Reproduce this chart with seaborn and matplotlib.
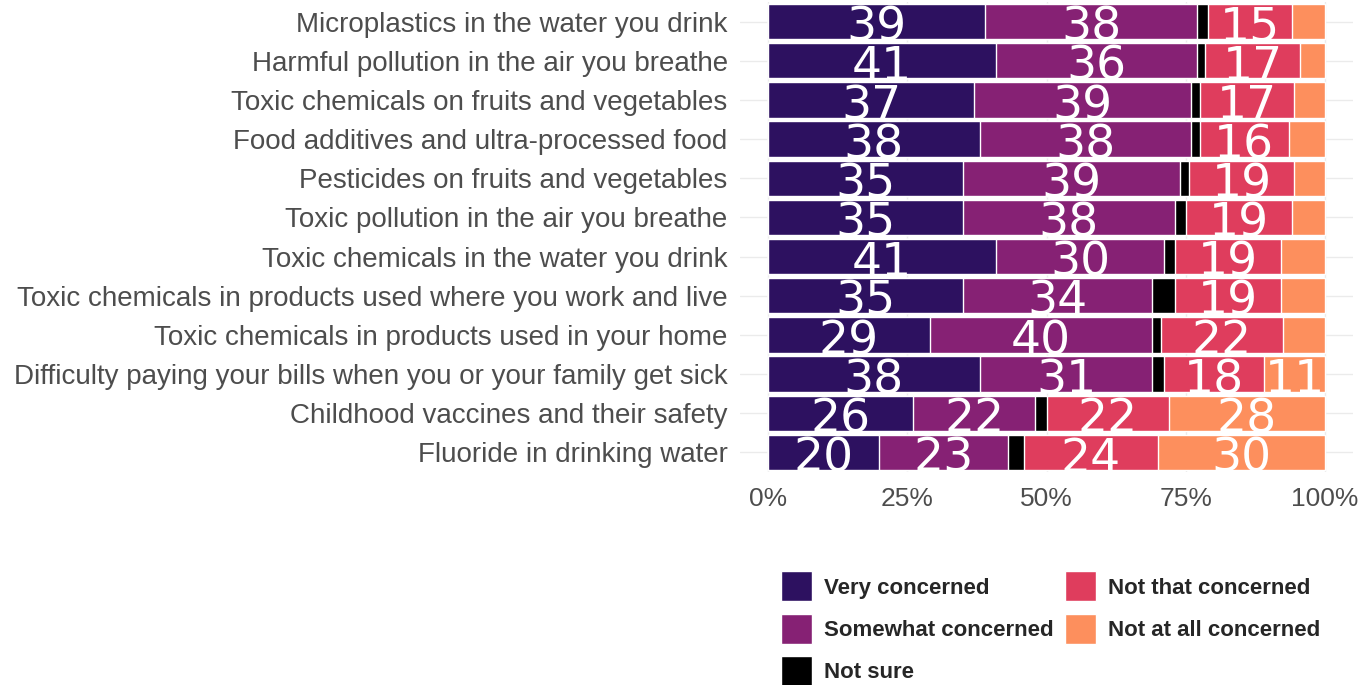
"""
Stacked horizontal bars: level of concern about health/environment issues.
Saves out.png (1372x685).
"""

import numpy as np
import pandas as pd
import matplotlib.pyplot as plt
import seaborn as sns


# ── Data ──────────────────────────────────────────────────────────────────────

ISSUES: list[str] = [
    'Microplastics in the water you drink',
    'Harmful pollution in the air you breathe',
    'Toxic chemicals on fruits and vegetables',
    'Food additives and ultra-processed food',
    'Pesticides on fruits and vegetables',
    'Toxic pollution in the air you breathe',
    'Toxic chemicals in the water you drink',
    'Toxic chemicals in products used where you work and live',
    'Toxic chemicals in products used in your home',
    'Difficulty paying your bills when you or your family get sick',
    'Childhood vaccines and their safety',
    'Fluoride in drinking water',
]

VERY:       list[float] = [39, 41, 37, 38, 35, 35, 41, 35, 29, 38, 26, 20]
SOMEWHAT:   list[float] = [38, 36, 39, 38, 39, 38, 30, 34, 40, 31, 22, 23]
NOT_SURE:   list[float] = [2, 1.5, 1.5, 1.5, 1.5, 2, 2, 4, 1.5, 2, 2, 3]
NOT_THAT:   list[float] = [15, 17, 17, 16, 19, 19, 19, 19, 22, 18, 22, 24]
NOT_AT_ALL: list[float] = [6, 4.5, 5.5, 6.5, 5.5, 6, 8, 8, 7.5, 11, 28, 30]

RESPONSES: list[str] = ['Very concerned', 'Somewhat concerned', 'Not sure',
                        'Not that concerned', 'Not at all concerned']

X_TICKS: list[int] = [0, 25, 50, 75, 100]
X_TICK_LABELS: list[str] = ['0%', '25%', '50%', '75%', '100%']


# ── Style ─────────────────────────────────────────────────────────────────────

COLOURS: list[str] = ['#2D1160', '#862174', '#000000', '#DF3D5D', '#FD8F5D']
TEXT_GREY: str = '#4D4D4D'
GRID_GREY: str = '#EBEBEB'

sns.set_style('white')
plt.rcParams['font.family'] = ['Liberation Sans', 'DejaVu Sans']


def main() -> None:
    values = np.array([VERY, SOMEWHAT, NOT_SURE, NOT_THAT, NOT_AT_ALL], dtype=float)
    cumulative = values.cumsum(axis=0)
    left = cumulative - values

    fig = plt.figure(figsize=(13.72, 6.85), dpi=100)
    ax = fig.add_axes([0.5395, 0.311, 0.4466, 0.686])

    # draw from the outermost cumulative total inwards, so each layer covers the last
    for i in range(len(RESPONSES) - 1, -1, -1):
        df = pd.DataFrame({'issue': ISSUES, 'total': cumulative[i]})
        sns.barplot(data=df, x='total', y='issue', order=ISSUES, orient='h',
                    color=COLOURS[i], saturation=1, width=0.9, ax=ax,
                    label=RESPONSES[i], zorder=3)

    # value labels (segments of 10% or more)
    for i in [0, 1, 3, 4]:
        for j, val in enumerate(values[i]):
            if val >= 10:
                ax.text(left[i, j] + val / 2, j + 0.17, f'{round(val)}',
                        ha='center', va='center', color='white', fontsize=34,
                        family='DejaVu Sans', zorder=5)

    ax.set_xlim(-5, 105)
    ax.set_ylim(11.5, -0.5)
    ax.set_xticks(X_TICKS)
    ax.set_xticklabels(X_TICK_LABELS)
    ax.set_xlabel('')
    ax.set_ylabel('')
    ax.tick_params(axis='both', length=0, colors=TEXT_GREY)
    ax.tick_params(axis='x', pad=11, labelsize=19)
    ax.tick_params(axis='y', pad=9, labelsize=20)
    ax.grid(True, color=GRID_GREY, linewidth=1, zorder=0)
    ax.set_axisbelow(True)
    sns.despine(ax=ax, left=True, bottom=True)

    # legend: handles come in reverse drawing order, so put them back in order
    handles, labels = ax.get_legend_handles_labels()
    lookup = dict(zip(labels, handles))
    ax.legend([lookup[r] for r in RESPONSES], RESPONSES,
              loc='upper left', bbox_to_anchor=(0.569, 0.166),
              bbox_transform=fig.transFigure, ncol=2, frameon=False,
              prop={'weight': 'bold', 'size': 16},
              handlelength=1.4, handleheight=1.7, handletextpad=0.55,
              labelspacing=0.55, columnspacing=0.5, borderpad=0, borderaxespad=0)

    fig.savefig('out.png', dpi=100)
    plt.close(fig)


if __name__ == '__main__':
    main()
